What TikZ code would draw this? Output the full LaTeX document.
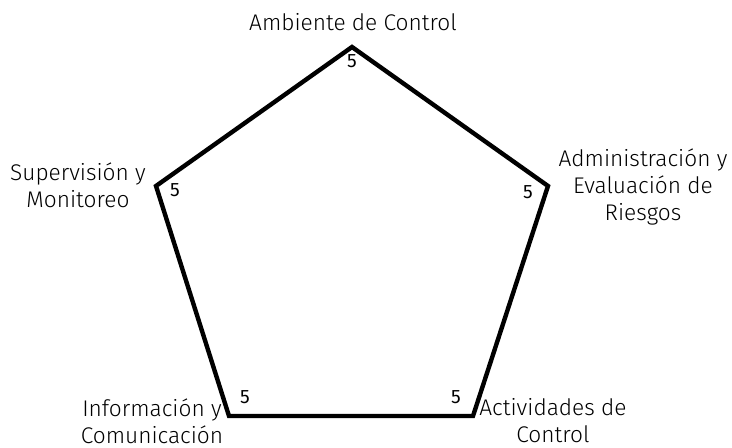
\documentclass[tikz,border=0pt]{standalone}
\usepackage{fontspec}
\setmainfont{Fira Sans Light}
\newfontfamily\numfont{Fira Sans}
\begin{document}
\begin{tikzpicture}[x=0.75pt,y=-0.75pt,
  lbl/.style={align=center,font=\fontsize{17}{20.25}\selectfont,inner sep=0pt},
  num/.style={font=\numfont\fontsize{14.5}{16}\selectfont,inner sep=0pt}]
\useasboundingbox (0,0) rectangle (732,448);
\coordinate (A) at (352,47);
\coordinate (B) at (548,186);
\coordinate (C) at (473,416);
\coordinate (D) at (229,416);
\coordinate (E) at (156,186);
\draw[line width=3.3pt,line join=miter] (A) -- (B) -- (C) -- (D) -- (E) -- cycle;
\node[lbl] (la) at (353,22) {Ambiente de Control};
\node[lbl] (lb) at (643,187) {Administración y\\Evaluación de\\Riesgos};
\node[lbl] (lc) at (553,421) {Actividades de\\Control};
\node[lbl] (ld) at (152,421) {Información y\\Comunicación};
\node[lbl] (le) at (78,185) {Supervisión y\\Monitoreo};
\node[num] (na) at (352,61) {5};
\node[num] (nb) at (528,192) {5};
\node[num] (nc) at (456,397) {5};
\node[num] (nd) at (245,397) {5};
\node[num] (ne) at (175,190) {5};
\end{tikzpicture}
\end{document}
